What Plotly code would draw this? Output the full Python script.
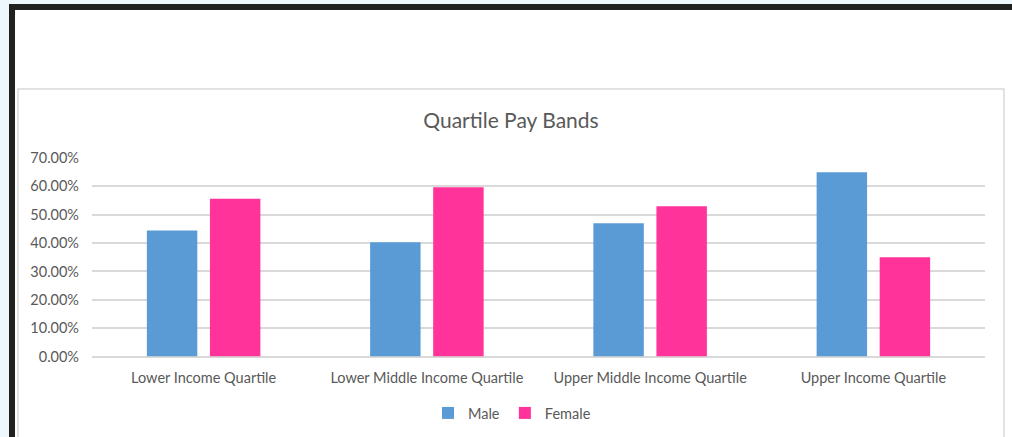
import plotly.graph_objects as go

categories = ["Lower Income Quartile", "Lower Middle Income Quartile",
              "Upper Middle Income Quartile", "Upper Income Quartile"]
male = [0.444, 0.403, 0.470, 0.650]
female = [0.556, 0.597, 0.530, 0.350]
y_ticks = [0, 0.1, 0.2, 0.3, 0.4, 0.5, 0.6, 0.7]

W, H = 1012, 437
FONT = "Lato"
GREY = "#595959"

def px(x):
    return x / W

def py(y):
    return 1 - y / H

fig = go.Figure()
fig.add_trace(go.Bar(name="Male", x=categories, y=male, marker_color="#5b9bd5",
                     marker_line_width=0))
fig.add_trace(go.Bar(name="Female", x=categories, y=female, marker_color="#ff3399",
                     marker_line_width=0))

shapes = [
    dict(type="rect", xref="paper", yref="paper", x0=px(9), x1=px(1030), y0=py(4), y1=py(460),
         fillcolor="#212121", line_width=0, layer="below"),
    dict(type="rect", xref="paper", yref="paper", x0=px(15), x1=px(1030), y0=py(10), y1=py(460),
         fillcolor="white", line_width=0, layer="below"),
    dict(type="rect", xref="paper", yref="paper", x0=px(18), x1=px(1004), y0=py(89), y1=py(460),
         fillcolor="white", line=dict(color="#d9d9d9", width=1.5), layer="below"),
]

fig.update_layout(
    width=W, height=H,
    autosize=False,
    margin=dict(l=0, r=0, t=0, b=0, pad=0, autoexpand=False),
    paper_bgcolor="#eef7fc",
    plot_bgcolor="rgba(0,0,0,0)",
    shapes=shapes,
    barmode="group",
    bargap=0.435,
    bargroupgap=0.2,
    font=dict(family=FONT, color=GREY, size=14.5),
    title=dict(text="Quartile Pay Bands", x=px(511), xanchor="center",
               y=py(121), yanchor="middle", font=dict(size=21, color=GREY, family=FONT)),
    xaxis=dict(domain=[px(92), px(985)], showgrid=False, showline=False, zeroline=False,
               ticks="", automargin=False, ticklabelstandoff=11,
               tickfont=dict(size=14.5, color=GREY)),
    yaxis=dict(domain=[py(356.5), py(158)], range=[0, 0.7], tickvals=y_ticks,
               tickformat=".2%", showgrid=True, gridcolor="#d9d9d9", gridwidth=1.5,
               zeroline=True, zerolinecolor="#d9d9d9", zerolinewidth=1.5,
               showline=False, ticks="", automargin=False, ticklabelstandoff=12,
               tickfont=dict(size=14.5, color=GREY)),
    legend=dict(orientation="h", x=px(512), xanchor="center", y=py(413), yanchor="middle",
                font=dict(size=14.5, color=GREY), bgcolor="rgba(0,0,0,0)",
                itemwidth=30, tracegroupgap=0),
    showlegend=True,
    hovermode=False,
)

fig.write_html("out.html", config={"displayModeBar": False},
               post_script="document.body.style.margin='0';document.body.style.overflow='hidden';")
